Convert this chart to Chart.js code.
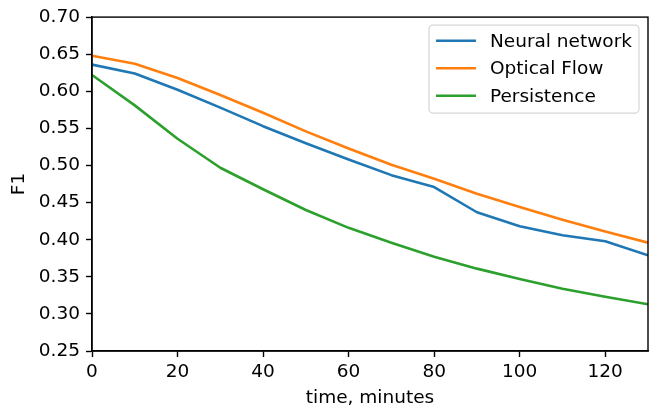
<!DOCTYPE html>
<html>
<head>
<meta charset="utf-8">
<script src="https://cdn.jsdelivr.net/npm/chart.js@4"></script>
<style>
  html, body { margin: 0; padding: 0; background: #fff; }
  #wrap { width: 660px; height: 406px; }
</style>
</head>
<body>
<div id="wrap"><canvas id="c" width="660" height="406"></canvas></div>
<script>
const times = [0, 10, 20, 30, 40, 50, 60, 70, 80, 90, 100, 110, 120, 130];
const neuralNetwork = [0.636, 0.624, 0.602, 0.578, 0.553, 0.530, 0.508, 0.487, 0.471, 0.437, 0.418, 0.406, 0.398, 0.379];
const opticalFlow = [0.648, 0.637, 0.618, 0.595, 0.571, 0.546, 0.523, 0.501, 0.482, 0.462, 0.444, 0.427, 0.411, 0.396];
const persistence = [0.622, 0.581, 0.536, 0.497, 0.468, 0.440, 0.416, 0.396, 0.377, 0.361, 0.347, 0.334, 0.323, 0.313];
const seriesNames = ['Neural network', 'Optical Flow', 'Persistence'];
const xTicks = [0, 20, 40, 60, 80, 100, 120];
const yTicks = [0.25, 0.30, 0.35, 0.40, 0.45, 0.50, 0.55, 0.60, 0.65, 0.70];
const xTitle = 'time, minutes';
const yTitle = 'F1';

const colors = ['#1f77b4', '#ff7f0e', '#2ca02c'];
const FONT = 'DejaVu Sans';
const FS = 18.5;

const toPoints = arr => arr.map((v, i) => ({ x: times[i], y: v }));
const seriesValues = [neuralNetwork, opticalFlow, persistence];

const frameAndLegend = {
  id: 'frameAndLegend',
  afterDatasetsDraw(chart) {
    const { ctx, chartArea: a } = chart;
    ctx.save();
    // full frame (spines)
    ctx.strokeStyle = '#000';
    ctx.lineWidth = 1.4;
    ctx.strokeRect(a.left, a.top, a.right - a.left, a.bottom - a.top);

    // legend inside the plot, upper right
    ctx.font = FS + 'px "' + FONT + '"';
    const ds = chart.data.datasets;
    let maxW = 0;
    ds.forEach(d => { maxW = Math.max(maxW, ctx.measureText(d.label).width); });
    const padL = 7, handle = 40, gap = 14, padR = 7, rowH = 27.5, padT = 15.7;
    const boxW = padL + handle + gap + maxW + padR;
    const boxH = 88;
    const right = a.right - 9;
    const left = right - boxW;
    const top = a.top + 8;
    const r = 4;
    ctx.beginPath();
    ctx.moveTo(left + r, top);
    ctx.lineTo(left + boxW - r, top);
    ctx.arcTo(left + boxW, top, left + boxW, top + r, r);
    ctx.lineTo(left + boxW, top + boxH - r);
    ctx.arcTo(left + boxW, top + boxH, left + boxW - r, top + boxH, r);
    ctx.lineTo(left + r, top + boxH);
    ctx.arcTo(left, top + boxH, left, top + boxH - r, r);
    ctx.lineTo(left, top + r);
    ctx.arcTo(left, top, left + r, top, r);
    ctx.closePath();
    ctx.fillStyle = 'rgba(255,255,255,0.8)';
    ctx.fill();
    ctx.strokeStyle = '#d6d6d6';
    ctx.lineWidth = 1.2;
    ctx.stroke();

    ds.forEach((d, i) => {
      const y = top + padT + i * rowH;
      ctx.strokeStyle = d.borderColor;
      ctx.lineWidth = d.borderWidth;
      ctx.beginPath();
      ctx.moveTo(left + padL, y);
      ctx.lineTo(left + padL + handle, y);
      ctx.stroke();
      ctx.fillStyle = '#000';
      ctx.textBaseline = 'middle';
      ctx.textAlign = 'left';
      ctx.fillText(d.label, left + padL + handle + gap, y + 1);
    });
    ctx.restore();
  }
};

new Chart(document.getElementById('c'), {
  type: 'line',
  data: {
    datasets: seriesValues.map((vals, i) => ({
      label: seriesNames[i],
      data: toPoints(vals),
      borderColor: colors[i],
      backgroundColor: colors[i],
      borderWidth: 2.6,
      pointRadius: 0,
      pointHoverRadius: 0,
      fill: false,
      tension: 0,
      borderJoinStyle: 'round',
      borderCapStyle: 'butt'
    }))
  },
  options: {
    responsive: false,
    animation: false,
    devicePixelRatio: 1,
    layout: { padding: { left: 0, top: 13, right: 12, bottom: 0 } },
    plugins: {
      legend: { display: false },
      tooltip: { enabled: false },
      title: { display: false }
    },
    scales: {
      x: {
        type: 'linear',
        min: 0,
        max: 130,
        afterBuildTicks: s => { s.ticks = xTicks.map(v => ({ value: v })); },
        afterFit: s => { s.height = 55; },
        grid: { display: true, drawOnChartArea: false, drawTicks: true, tickLength: 6, tickWidth: 1.4, tickColor: '#000' },
        border: { display: true, color: '#000', width: 1.4 },
        ticks: {
          color: '#000',
          font: { family: FONT, size: FS },
          padding: 4,
          maxRotation: 0,
          autoSkip: false,
          callback: v => String(v)
        },
        title: {
          display: true,
          text: xTitle,
          color: '#000',
          font: { family: FONT, size: FS, lineHeight: 1 },
          padding: { top: 0, bottom: -1 }
        }
      },
      y: {
        type: 'linear',
        min: 0.25,
        max: 0.70,
        afterBuildTicks: s => { s.ticks = yTicks.map(v => ({ value: v })); },
        afterFit: s => { s.width = 92; },
        grid: { display: true, drawOnChartArea: false, drawTicks: true, tickLength: 6, tickWidth: 1.4, tickColor: '#000' },
        border: { display: true, color: '#000', width: 1.4 },
        ticks: {
          color: '#000',
          font: { family: FONT, size: FS },
          padding: 6,
          autoSkip: false,
          callback: v => Number(v).toFixed(2)
        },
        title: {
          display: true,
          text: yTitle,
          color: '#000',
          font: { family: FONT, size: FS, lineHeight: 1 },
          padding: { top: 10, bottom: 0 }
        }
      }
    }
  },
  plugins: [frameAndLegend]
});
</script>
</body>
</html>
